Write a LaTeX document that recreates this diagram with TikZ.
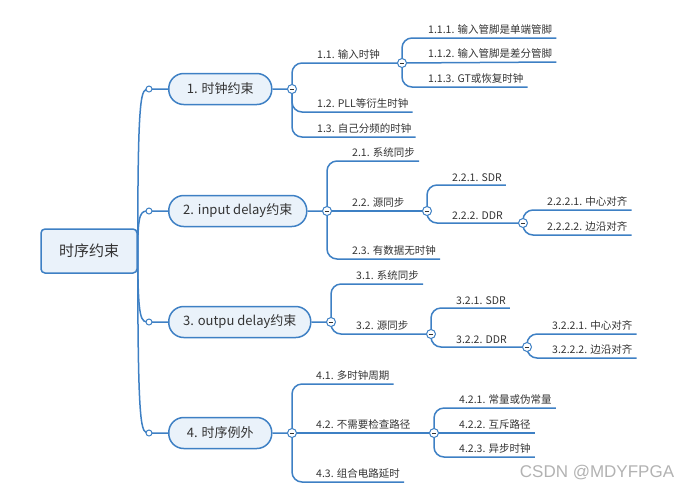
\documentclass[tikz,border=0pt]{standalone}
\usepackage{fontspec}
\setmainfont{Noto Sans CJK SC}
\newfontfamily\markfont{Liberation Sans}
\usetikzlibrary{backgrounds}
\definecolor{linkblue}{RGB}{62,128,196}
\definecolor{topicfill}{RGB}{234,242,250}
\definecolor{textgray}{RGB}{51,51,51}
\tikzstyle{link} = [draw=linkblue, line width=1.5pt]
\tikzstyle{branch} = [link, rounded corners=10pt]
\tikzstyle{rootbox} = [draw=linkblue, fill=topicfill, line width=1.5pt, rounded corners=4pt,
  minimum width=96pt, minimum height=44pt, text=textgray, font=\fontsize{15}{18}\selectfont]
\tikzstyle{topic} = [draw=linkblue, fill=topicfill, line width=1.5pt, rounded corners=15pt,
  minimum height=31pt, anchor=west, text=textgray, font=\fontsize{13}{16}\selectfont]
\tikzstyle{sub} = [anchor=south west, inner xsep=4pt, inner ysep=3pt, text=textgray,
  font=\fontsize{10.5}{12}\selectfont]
\tikzstyle{fold} = [circle, draw=linkblue, fill=white, line width=1pt, minimum size=9pt, inner sep=0pt,
  path picture={\draw[textgray, line width=0.8pt] ([xshift=-2.2pt]path picture bounding box.center)
  -- ([xshift=2.2pt]path picture bounding box.center);}]
\tikzstyle{dot} = [circle, draw=linkblue, fill=white, line width=1pt, minimum size=6pt, inner sep=0pt]

\begin{document}
\begin{tikzpicture}[x=1pt, y=-1pt]
  \useasboundingbox (0,0) rectangle (692,491);

  % Central topic
  \node [rootbox] (root) at (89,251) {时序约束};

  % Main topics
  \node [topic, minimum width=103pt] (topic1) at (168,89) {1. 时钟约束};
  \node [topic, minimum width=138pt] (topic2) at (168,211) {2. input delay约束};
  \node [topic, minimum width=142pt] (topic3) at (168,322) {3. outpu delay约束};
  \node [topic, minimum width=103pt] (topic4) at (168,433) {4. 时序例外};
  \node [dot] (dot1) at (149,89) {};
  \node [dot] (dot2) at (149,211) {};
  \node [dot] (dot3) at (149,322) {};
  \node [dot] (dot4) at (149,433) {};

  % Fold buttons
  \node [fold] (fold1) at (292,89) {};
  \node [fold] (fold11) at (402,63) {};
  \node [fold] (fold2) at (327,211) {};
  \node [fold] (fold22) at (427,211) {};
  \node [fold] (fold222) at (523,223) {};
  \node [fold] (fold3) at (331,322) {};
  \node [fold] (fold32) at (431,334) {};
  \node [fold] (fold322) at (527,347) {};
  \node [fold] (fold4) at (292,433) {};
  \node [fold] (fold42) at (434,433) {};

  % Subtopics of 1
  \node [sub] (sub11) at (313,63) {1.1. 输入时钟};
  \node [sub] (sub12) at (313,112) {1.2. PLL等衍生时钟};
  \node [sub] (sub13) at (313,137) {1.3. 自己分频的时钟};
  \node [sub] (sub111) at (424,38) {1.1.1. 输入管脚是单端管脚};
  \node [sub] (sub112) at (424,62) {1.1.2. 输入管脚是差分管脚};
  \node [sub] (sub113) at (424,87) {1.1.3. GT或恢复时钟};

  % Subtopics of 2
  \node [sub] (sub21) at (348,161) {2.1. 系统同步};
  \node [sub] (sub22) at (348,211) {2.2. 源同步};
  \node [sub] (sub23) at (348,259) {2.3. 有数据无时钟};
  \node [sub] (sub221) at (448,185) {2.2.1. SDR};
  \node [sub] (sub222) at (448,223) {2.2.2. DDR};
  \node [sub] (sub2221) at (543,210) {2.2.2.1. 中心对齐};
  \node [sub] (sub2222) at (543,235) {2.2.2.2. 边沿对齐};

  % Subtopics of 3
  \node [sub] (sub31) at (352,284) {3.1. 系统同步};
  \node [sub] (sub32) at (352,334) {3.2. 源同步};
  \node [sub] (sub321) at (452,308) {3.2.1. SDR};
  \node [sub] (sub322) at (452,347) {3.2.2. DDR};
  \node [sub] (sub3221) at (548,334) {3.2.2.1. 中心对齐};
  \node [sub] (sub3222) at (548,358) {3.2.2.2. 边沿对齐};

  % Subtopics of 4
  \node [sub] (sub41) at (312,384) {4.1. 多时钟周期};
  \node [sub] (sub42) at (312,433) {4.2. 不需要检查路径};
  \node [sub] (sub43) at (312,482) {4.3. 组合电路延时};
  \node [sub] (sub421) at (455,408) {4.2.1. 常量或伪常量};
  \node [sub] (sub422) at (455,433) {4.2.2. 互斥路径};
  \node [sub] (sub423) at (455,457) {4.2.3. 异步时钟};

  \node [text=black!30, font=\markfont\fontsize{17}{20}\selectfont] (mark) at (597,473) {CSDN @MDYFPGA};

  % Connectors
  \begin{scope}[on background layer]
    \foreach \i in {1,...,4}
      \draw [link] (root.east) .. controls (root.east |- dot\i) and ([xshift=-8pt]dot\i.center)
        .. (dot\i.center) -- (topic\i) -- (topic\i -| fold\i);
    \draw [branch] (fold1.center) |- (fold11.center);
    \draw [branch] (fold1.center) |- (sub12.south east);
    \draw [branch] (fold1.center) |- (sub13.south east);
    \draw [branch] (fold11.center) |- (sub111.south east);
    \draw [branch] (fold11.center) -- (sub112.south east);
    \draw [branch] (fold11.center) |- (sub113.south east);
    \draw [branch] (fold2.center) |- (sub21.south east);
    \draw [link] (fold2.center) -- (fold22.center);
    \draw [branch] (fold2.center) |- (sub23.south east);
    \draw [branch] (fold22.center) |- (sub221.south east);
    \draw [branch] (fold22.center) |- (fold222.center);
    \draw [branch] (fold222.center) |- (sub2221.south east);
    \draw [branch] (fold222.center) |- (sub2222.south east);
    \draw [branch] (fold3.center) |- (sub31.south east);
    \draw [branch] (fold3.center) |- (fold32.center);
    \draw [branch] (fold32.center) |- (sub321.south east);
    \draw [branch] (fold32.center) |- (fold322.center);
    \draw [branch] (fold322.center) |- (sub3221.south east);
    \draw [branch] (fold322.center) |- (sub3222.south east);
    \draw [branch] (fold4.center) |- (sub41.south east);
    \draw [link] (fold4.center) -- (fold42.center);
    \draw [branch] (fold4.center) |- (sub43.south east);
    \draw [branch] (fold42.center) |- (sub421.south east);
    \draw [link] (fold42.center) -- (sub422.south east);
    \draw [branch] (fold42.center) |- (sub423.south east);
  \end{scope}
\end{tikzpicture}
\end{document}
